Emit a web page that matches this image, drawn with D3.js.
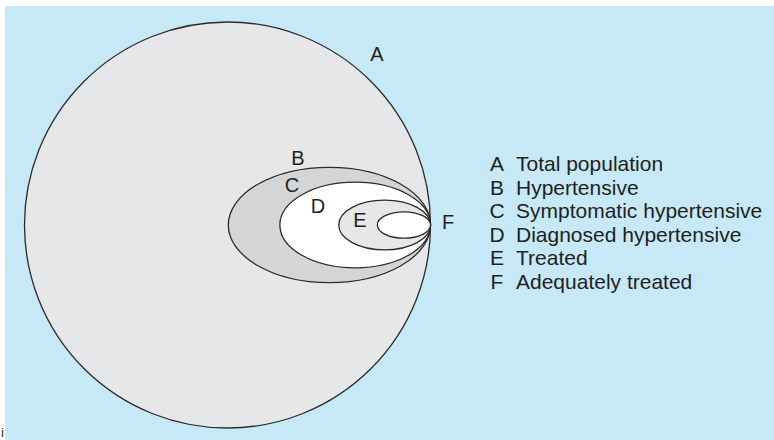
<!DOCTYPE html>
<html>
<head>
<meta charset="utf-8">
<script src="https://cdn.jsdelivr.net/npm/d3@7"></script>
<style>
  body { margin: 0; background: #fff; }
  text { font-family: "Liberation Sans", Arial, sans-serif; fill: #231f20; }
</style>
</head>
<body>
<div id="chart"></div>
<script>
// groups, from largest (total) to smallest, with relative sizes
let groups      = ['A', 'B', 'D', 'E', 'F'];
let relWidth    = [1.000, 0.498, 0.371, 0.226, 0.131];
let relHeight   = [1.000, 0.284, 0.211, 0.123, 0.065];
let legendKeys  = ['A', 'B', 'C', 'D', 'E', 'F'];
let legendNames = ['Total population', 'Hypertensive', 'Symptomatic hypertensive',
                   'Diagnosed hypertensive', 'Treated', 'Adequately treated'];

let w = 774;
let h = 440;
let svg = d3.select('#chart').append('svg').attr('width', w).attr('height', h);

// blue panel
svg.append('rect').attr('x', 5).attr('y', 6).attr('width', w - 5).attr('height', h - 6)
    .attr('fill', '#c6e8f7');

let R  = 203;
let cx = 227.5, cy = 225;
let tip = cx + R;   // every set touches the circle at its right side (F)

let size = d3.scaleLinear().domain([0, 1]).range([0, R]);
let fills = ['#e6e7e9', '#d4d5d7', '#ffffff', '#e6e7e9', '#ffffff'];

let g = svg.append('g');
g.selectAll('ellipse').data(groups).enter().append('ellipse')
    .attr('cx', (d, i) => tip - size(relWidth[i]))
    .attr('cy', cy)
    .attr('rx', (d, i) => size(relWidth[i]))
    .attr('ry', (d, i) => size(relHeight[i]))
    .attr('fill', (d, i) => fills[i])
    .attr('stroke', '#2b2b2b')
    .attr('stroke-width', 1.3);

// letters on the diagram
let marks = [
    {t: 'A', x: 377, y: 61},
    {t: 'B', x: 298, y: 165},
    {t: 'C', x: 292, y: 192},
    {t: 'D', x: 318, y: 213},
    {t: 'E', x: 360, y: 227},
    {t: 'F', x: 448, y: 229}
];
svg.selectAll('text.mark').data(marks).enter().append('text')
    .attr('class', 'mark')
    .attr('x', d => d.x).attr('y', d => d.y)
    .attr('text-anchor', 'middle')
    .attr('font-size', 20)
    .text(d => d.t);

// legend
let ly = d3.scalePoint().domain(legendKeys).range([171, 289]);
let leg = svg.selectAll('g.leg').data(legendKeys).enter().append('g')
    .attr('class', 'leg')
    .attr('transform', d => 'translate(0,' + ly(d) + ')');
leg.append('text').attr('x', 497).attr('text-anchor', 'middle').attr('font-size', 21).text(d => d);
leg.append('text').attr('x', 516).attr('font-size', 21).text((d, i) => legendNames[i]);

// stray mark in the corner of the scan
svg.append('text').attr('x', 1).attr('y', 437).attr('font-size', 13).text('i');
</script>
</body>
</html>
